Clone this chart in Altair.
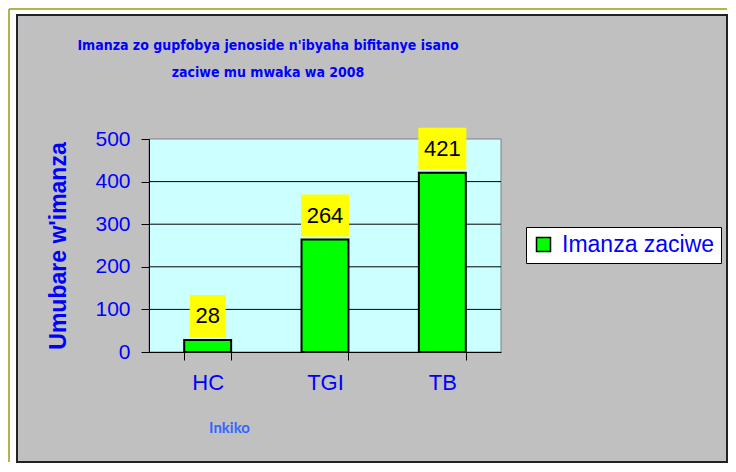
import altair as alt
import pandas as pd

# ---- data ----
categories = ["HC", "TGI", "TB"]
values = [28, 264, 421]
series_name = "Imanza zaciwe"
y_ticks = [0, 100, 200, 300, 400, 500]
grid_values = [100, 200, 300, 400]
title_lines = ["Imanza zo gupfobya jenoside n'ibyaha bifitanye isano",
               "zaciwe mu mwaka wa 2008"]
x_title = "Inkiko"
y_title = "Umubare w'imanza"

df = pd.DataFrame({
    "Inkiko": categories,
    "Imanza": values,
    "series": [series_name] * len(categories),
    "label": [str(v) for v in values],
})
grid_df = pd.DataFrame({"Imanza": grid_values})
one = pd.DataFrame({"k": [0]})

BLUE = "#0000ff"
FONT = "Liberation Sans"

x_enc = alt.X(
    "Inkiko:N", sort=categories,
    scale=alt.Scale(paddingInner=0.6, paddingOuter=0.3),
    axis=alt.Axis(
        title=x_title, labelAngle=0, tickBand="extent", tickSize=8,
        tickColor="black", domainColor="black", domainWidth=1,
        labelFont=FONT, labelFontSize=22, labelColor=BLUE, labelPadding=12,
        titleFont="Lato", titleFontSize=15, titleFontWeight="bold",
        titleColor="#3366ff", titleX=80, titleY=80, titleBaseline="alphabetic",
        titleAnchor="start", titleAlign="center", grid=False, zindex=1,
    ),
)
y_enc = alt.Y(
    "Imanza:Q", scale=alt.Scale(domain=[0, 500], nice=False),
    axis=alt.Axis(
        title=y_title, values=y_ticks, tickSize=8, tickColor="black",
        domainColor="black", labelFont=FONT, labelFontSize=21, labelColor=BLUE,
        labelPadding=11, titleFont=FONT, titleFontSize=23, titleFontWeight="bold",
        titleColor=BLUE, titlePadding=24, grid=False, zindex=1,
    ),
)

# outer gray chart area
frame = alt.Chart(one).mark_rect(fill="#c0c0c0", stroke="#222222", strokeWidth=2).encode(
    x=alt.value(-132), x2=alt.value(578), y=alt.value(-124), y2=alt.value(323)
)
olive_top = alt.Chart(one).mark_rule(color="#9a9a10", strokeWidth=1.5).encode(
    x=alt.value(-140), x2=alt.value(578), y=alt.value(-130)
)
olive_left = alt.Chart(one).mark_rule(color="#9a9a10", strokeWidth=1.5).encode(
    x=alt.value(-140), y=alt.value(-130), y2=alt.value(323)
)
# plot area background
plotbg = alt.Chart(one).mark_rect(fill="#ccffff", stroke="#808080", strokeWidth=1).encode(
    x=alt.value(0), x2=alt.value("width"), y=alt.value(0), y2=alt.value("height")
)
grid = alt.Chart(grid_df).mark_rule(color="black", strokeWidth=1).encode(
    y=y_enc, x=alt.value(0), x2=alt.value("width")
)
title = alt.Chart(one).mark_text(
    font="Liberation Sans Narrow, DejaVu Sans Condensed, Lato", fontSize=14,
    fontWeight="bold", color=BLUE, align="center", baseline="alphabetic",
    lineHeight=27,
).encode(x=alt.value(119), y=alt.value(-89), text=alt.value(title_lines))

bars = alt.Chart(df).mark_bar(stroke="black", strokeWidth=2).encode(
    x=x_enc, y=y_enc,
    color=alt.Color("series:N", scale=alt.Scale(range=["#00ff00"]),
                    legend=alt.Legend(
                        title=None, orient="none", legendX=377, legendY=88,
                        fillColor="white", strokeColor="black", padding=6,
                        symbolType="square", symbolSize=196,
                        symbolStrokeColor="black", symbolStrokeWidth=1.5,
                        labelFont=FONT, labelFontSize=23, labelColor=BLUE,
                        labelOffset=7, labelLimit=400)),
)
boxes = alt.Chart(df).mark_rect(
    fill="#ffff00", yOffset=-3, y2Offset=-45,
    width=alt.expr("length(datum.label) * 12 + 12"),
).encode(x=x_enc, y=y_enc, y2="Imanza:Q")
labels = alt.Chart(df).mark_text(
    font=FONT, fontSize=22, color="black", baseline="middle", dy=-24
).encode(x=x_enc, y=y_enc, text="label:N")

chart = alt.layer(olive_top, olive_left, frame, plotbg, grid, bars, boxes, labels, title).properties(
    width=352, height=213,
    padding={"left": 0, "top": 0, "right": 0, "bottom": 0},
    background="white",
).configure_view(stroke=None)

chart.save("out.html", embed_options={"renderer": "svg", "actions": False})
